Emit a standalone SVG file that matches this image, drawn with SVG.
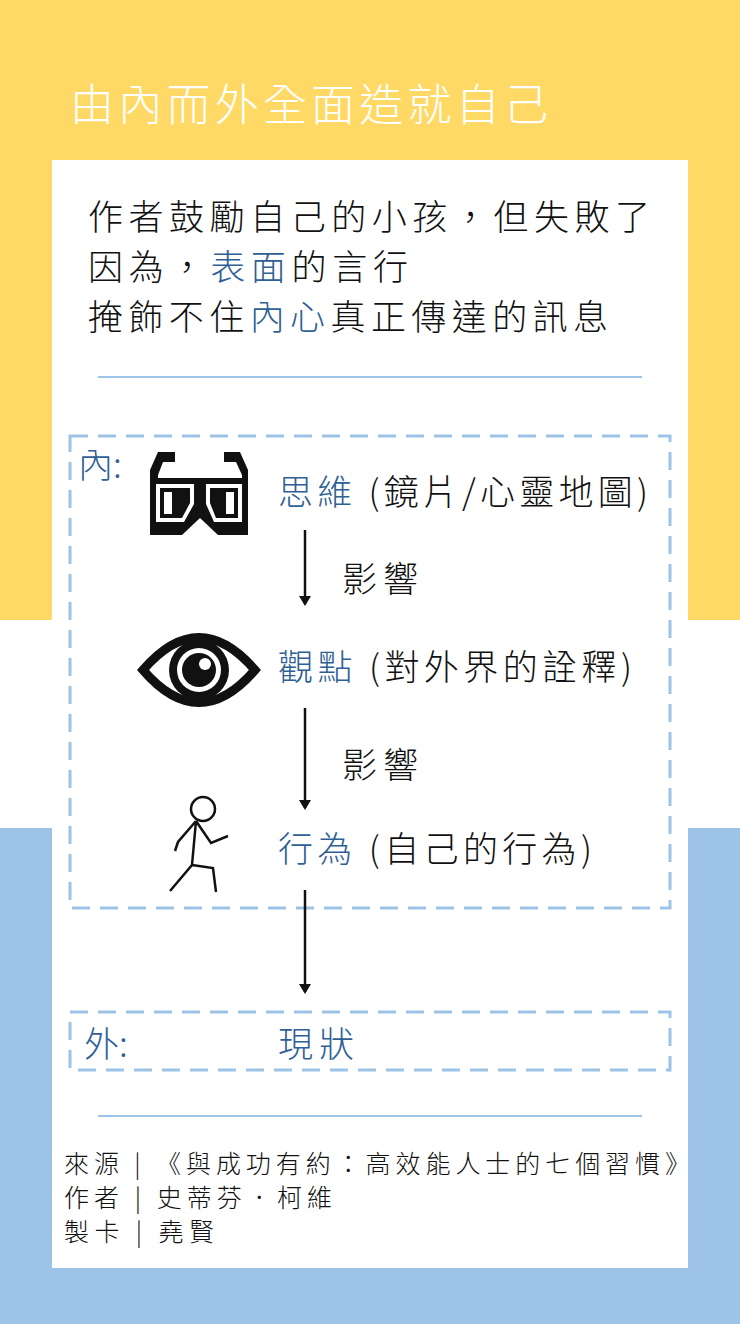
<svg xmlns="http://www.w3.org/2000/svg" width="740" height="1324" viewBox="0 0 740 1324">
<style>
text{font-family:"Noto Sans CJK TC","Noto Sans CJK SC",sans-serif;font-weight:300}
.b{font-size:35px;fill:#111}
.h{fill:#2E6096}
.f{font-size:25px;fill:#111}
.dash{fill:none;stroke:#9DC3E6;stroke-width:3;stroke-dasharray:18 10}
.c{stroke:#111;stroke-width:2.5;fill:none}
</style>
<defs><marker id="ar" markerWidth="10" markerHeight="12" refX="8" refY="6" orient="auto" markerUnits="userSpaceOnUse"><path d="M0,0 L10,6 L0,12 z" fill="#111"/></marker></defs>
<rect width="740" height="620" fill="#FFD966"/>
<rect y="620" width="740" height="208" fill="#fff"/>
<rect y="828" width="740" height="496" fill="#9DC3E6"/>
<rect x="52" y="160" width="636" height="1108" fill="#fff"/>
<text x="70" y="121" font-size="44" fill="#fff" textLength="478">由內而外全面造就自己</text>
<g id="intro">
<text class="b" x="88" y="230" textLength="562">作者鼓勵自己的小孩，但失敗了</text>
<text class="b" x="88" y="280" textLength="320">因為，<tspan class="h">表面</tspan>的言行</text>
<text class="b" x="88" y="330" textLength="520">掩飾不住<tspan class="h">內心</tspan>真正傳達的訊息</text>
</g>
<line x1="98" y1="377" x2="642" y2="377" stroke="#9DC3E6" stroke-width="2"/>
<g id="inner"><rect class="dash" x="70" y="436" width="600" height="472"/><text class="b h" x="78" y="478">內:</text></g>
<g id="glasses">
<path d="M150,535 V470 L158,452 H175 V462 H163 L158,475 V478 H242 V475 L236,462 H224 V452 H240 L248,470 V535 H218 L200,518 L182,535 Z" fill="#111"/>
<path d="M156,484 H194 V504 L184,522 H156 Z M206,484 H242 V522 H214 L206,504 Z" fill="#fff"/>
<path d="M160,488 H190 V503 L182,518 H160 Z M210,488 H238 V518 H216 L210,503 Z" fill="#111"/>
<path d="M164,492 H172 V514 H164 Z M226,492 H234 V514 H226 Z" fill="#fff"/>
</g>
<text class="b" x="278" y="505" textLength="370"><tspan class="h">思維</tspan> (鏡片/心靈地圖)</text>
<g id="eye">
<path d="M143,670 Q199,605 255,670 Q199,735 143,670 Z" fill="none" stroke="#111" stroke-width="9"/>
<circle cx="199" cy="670" r="30" fill="#111"/>
<circle cx="199" cy="670" r="22" fill="#fff"/>
<circle cx="199" cy="670" r="17" fill="#111"/>
<circle cx="205" cy="664" r="6" fill="#fff"/>
</g>
<text class="b" x="278" y="680" textLength="354"><tspan class="h">觀點</tspan> (對外界的詮釋)</text>
<g id="runner" class="c">
<circle cx="203" cy="809" r="12"/>
<path d="M196,821 L178,842 L175,851 M196,821 L211,843 L228,836 M196,821 L192,865 L170,891 M192,865 L213,868 L216,892"/>
</g>
<text class="b" x="278" y="862" textLength="314"><tspan class="h">行為</tspan> (自己的行為)</text>
<g id="connectors" stroke="#111" stroke-width="2.5">
<line x1="305" y1="530" x2="305" y2="604" marker-end="url(#ar)"/>
<line x1="305" y1="708" x2="305" y2="808" marker-end="url(#ar)"/>
<line x1="305" y1="890" x2="305" y2="992" marker-end="url(#ar)"/>
</g>
<text class="b" x="342" y="592" textLength="76">影響</text>
<text class="b" x="342" y="778" textLength="76">影響</text>
<g id="outer"><rect class="dash" x="70" y="1012" width="600" height="58"/><text class="b h" x="84" y="1057">外:</text><text class="b h" x="278" y="1057" textLength="76">現狀</text></g>
<line x1="98" y1="1116" x2="642" y2="1116" stroke="#9DC3E6" stroke-width="2"/>
<g id="footer">
<text class="f" x="64" y="1173" textLength="626">來源 | 《與成功有約：高效能人士的七個習慣》</text>
<text class="f" x="64" y="1207" textLength="268">作者 | 史蒂芬．柯維</text>
<text class="f" x="64" y="1241" textLength="150">製卡 | 堯賢</text>
</g>
</svg>
